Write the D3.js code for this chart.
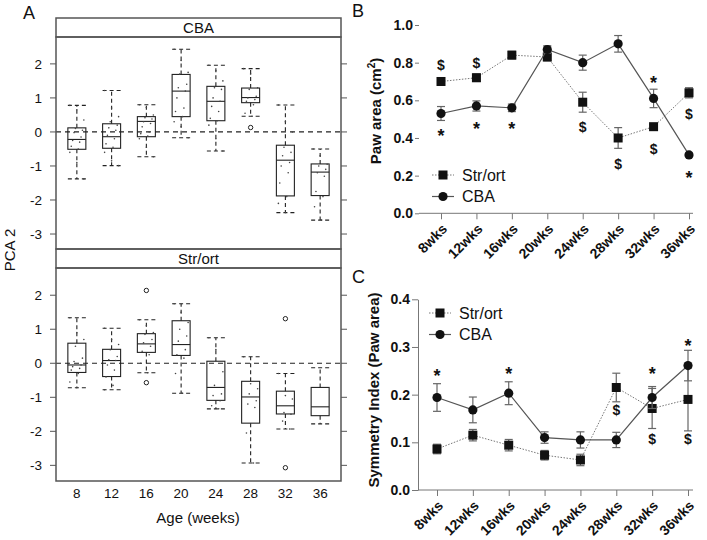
<!DOCTYPE html>
<html lang="en">
<head>
	<meta charset="UTF-8">
	<script type="text/javascript" src="https://d3js.org/d3.v7.min.js"></script>
	<title>PCA 2 / Paw area / Symmetry index</title>
	<style>
		body{ margin: 0; background: #fff; }
		text{ font-family: "Liberation Sans", Arial, sans-serif; fill: #111; }
		.frame{ fill: none; stroke: #555; stroke-width: 1.5px; }
		.box{ fill: none; stroke: #222; stroke-width: 1.1px; }
		.whisk{ stroke: #222; stroke-width: 1.1px; stroke-dasharray: 4,3; }
		.zero{ stroke: #222; stroke-width: 1.2px; stroke-dasharray: 5,4; }
		.pt{ fill: #444; }
		.out{ fill: none; stroke: #222; stroke-width: 1px; }
		.bold{ font-weight: bold; }
		.line_str{ fill: none; stroke: #777; stroke-width: 1px; stroke-dasharray: 1.5,1.5; }
		.line_cba{ fill: none; stroke: #555; stroke-width: 1.2px; }
		.err{ stroke: #666; stroke-width: 1.2px; }
	</style>
</head>
<body>
<script>
	// ---------- data ----------
	const weeks = [8, 12, 16, 20, 24, 28, 32, 36];
	const wkLabels = ["8wks", "12wks", "16wks", "20wks", "24wks", "28wks", "32wks", "36wks"];

	// panel A: [lower whisker, q1, median, q3, upper whisker]
	const cbaBoxes = [
		[-1.38, -0.51, -0.22, 0.12, 0.78],
		[-0.99, -0.48, -0.14, 0.24, 1.22],
		[-0.73, -0.14, 0.31, 0.45, 0.80],
		[-0.17, 0.45, 1.20, 1.69, 2.43],
		[-0.56, 0.33, 0.90, 1.34, 1.96],
		[0.46, 0.86, 1.01, 1.29, 1.86],
		[-2.37, -1.88, -0.83, -0.39, 0.79],
		[-2.59, -1.87, -1.18, -0.94, -0.50]
	];
	const strBoxes = [
		[-0.72, -0.27, -0.05, 0.59, 1.34],
		[-0.78, -0.39, 0.08, 0.41, 1.03],
		[-0.28, 0.32, 0.57, 0.87, 1.28],
		[-0.88, 0.23, 0.55, 1.25, 1.75],
		[-1.34, -1.09, -0.71, 0.06, 0.75],
		[-2.93, -1.76, -0.99, -0.53, 0.19],
		[-1.93, -1.49, -1.25, -0.82, -0.30],
		[-1.78, -1.54, -1.28, -0.71, -0.13]
	];
	// outliers: group index (0-based) and value
	const cbaOutliers = [[5, 0.13]];
	const strOutliers = [[2, 2.14], [2, -0.57], [6, 1.31], [6, -3.07]];
	// raw points shown over the boxes
	const cbaPoints = [
		[0.78, 0.65, 0.35, 0.1, 0.05, -0.02, -0.15, -0.25, -0.3, -0.42, -0.5, -0.6, -0.9, -1.38],
		[1.22, 0.7, 0.45, 0.3, 0.2, 0.12, 0.05, -0.1, -0.2, -0.35, -0.45, -0.6, -0.85, -0.99],
		[0.8, 0.72, 0.5, 0.42, 0.38, 0.3, 0.25, 0.15, 0.0, -0.05, -0.12, -0.2, -0.45, -0.73],
		[2.43, 2.1, 1.75, 1.7, 1.4, 1.3, 1.2, 1.0, 0.7, 0.6, 0.45, 0.3, 0.15, -0.17],
		[1.96, 1.8, 1.5, 1.3, 1.25, 1.0, 0.9, 0.75, 0.6, 0.4, 0.33, 0.2, -0.2, -0.56],
		[1.86, 1.7, 1.3, 1.25, 1.05, 1.0, 0.95, 0.9, 0.8, 0.55, 0.46],
		[0.79, 0.3, 0.0, -0.45, -0.6, -0.7, -0.9, -1.0, -1.2, -1.5, -1.9, -2.1, -2.37],
		[-0.5, -0.7, -0.95, -1.0, -1.1, -1.2, -1.3, -1.75, -1.9, -2.2, -2.59]
	];
	const strPoints = [
		[1.34, 0.9, 0.7, 0.5, 0.15, 0.05, -0.05, -0.1, -0.15, -0.2, -0.3, -0.55, -0.72],
		[1.03, 0.7, 0.55, 0.4, 0.2, 0.1, 0.08, -0.05, -0.2, -0.4, -0.65, -0.78],
		[1.28, 1.1, 0.9, 0.85, 0.7, 0.6, 0.5, 0.35, 0.25, 0.0, -0.28],
		[1.75, 1.5, 1.2, 1.0, 0.8, 0.65, 0.4, 0.25, 0.15, -0.3, -0.88],
		[0.75, 0.4, -0.25, -0.65, -0.9, -0.95, -1.1, -1.25, -1.34],
		[0.19, -0.6, -0.75, -0.9, -1.1, -1.2, -1.3, -2.05, -2.93],
		[-0.3, -0.95, -1.05, -1.45, -1.5, -1.7, -1.93],
		[]
	];
	const pcaTicks = [-3, -2, -1, 0, 1, 2];

	// panel B: paw area (cm2), mean and error
	const pawStr = [0.70, 0.72, 0.84, 0.83, 0.59, 0.40, 0.46, 0.64];
	const pawStrErr = [0.012, 0.02, 0.02, 0.02, 0.053, 0.055, 0.012, 0.027];
	const pawCba = [0.53, 0.57, 0.56, 0.87, 0.80, 0.90, 0.61, 0.31];
	const pawCbaErr = [0.037, 0.027, 0.02, 0.02, 0.04, 0.044, 0.049, 0.01];
	const pawMarks = [["8wks", 0.785, "$"], ["12wks", 0.80, "$"], ["8wks", 0.434, "*"], ["12wks", 0.469, "*"],
		["16wks", 0.469, "*"], ["24wks", 0.458, "$"], ["28wks", 0.262, "$"], ["32wks", 0.713, "*"],
		["32wks", 0.341, "$"], ["36wks", 0.527, "$"], ["36wks", 0.211, "*"]];

	// panel C: symmetry index (paw area)
	const symStr = [0.086, 0.115, 0.094, 0.073, 0.063, 0.215, 0.171, 0.190];
	const symStrErr = [0.01, 0.012, 0.012, 0.01, 0.012, 0.03, 0.042, 0.066];
	const symCba = [0.194, 0.168, 0.203, 0.110, 0.105, 0.105, 0.194, 0.261];
	const symCbaErr = [0.029, 0.027, 0.024, 0.012, 0.017, 0.016, 0.023, 0.032];
	const symMarks = [["8wks", 0.248, "*"], ["16wks", 0.251, "*"], ["28wks", 0.168, "$"], ["32wks", 0.251, "*"],
		["32wks", 0.108, "$"], ["36wks", 0.311, "*"], ["36wks", 0.108, "$"]];

	const width = 707, height = 540;
	const svg = d3.select("body")
		.append("svg")
		.attr("width", width)
		.attr("height", height);

	// ---------- panel A ----------
	const xA = d3.scaleLinear().domain([0.4, 8.6]).range([56, 341]);
	const boxW = 18;

	function drawLattice(name, top, stripH, bottom, boxes, points, outliers, yDomain){
		const y = d3.scaleLinear().domain(yDomain).range([bottom, top + stripH]);
		const g = svg.append("g");
		// strip
		g.append("rect").attr("class", "frame")
			.attr("x", xA.range()[0]).attr("y", top)
			.attr("width", xA.range()[1] - xA.range()[0]).attr("height", stripH);
		g.append("text")
			.attr("x", (xA.range()[0] + xA.range()[1]) / 2)
			.attr("y", top + stripH - 4)
			.attr("text-anchor", "middle")
			.style("font-size", "15px")
			.text(name);
		// ticks on both sides
		pcaTicks.forEach(function (t){
			g.append("line").attr("x1", xA.range()[0] - 6).attr("x2", xA.range()[0])
				.attr("y1", y(t)).attr("y2", y(t)).attr("stroke", "#555");
			g.append("line").attr("x1", xA.range()[1]).attr("x2", xA.range()[1] + 6)
				.attr("y1", y(t)).attr("y2", y(t)).attr("stroke", "#555");
			g.append("text")
				.attr("x", xA.range()[0] - 14).attr("y", y(t))
				.attr("dy", "0.36em")
				.attr("text-anchor", "end")
				.style("font-size", "13.5px")
				.text(t);
		});
		// zero line
		g.append("line").attr("class", "zero")
			.attr("x1", xA.range()[0]).attr("x2", xA.range()[1])
			.attr("y1", y(0)).attr("y2", y(0));
		// boxes
		boxes.forEach(function (b, i){
			const cx = xA(i + 1);
			g.append("line").attr("class", "whisk").attr("x1", cx).attr("x2", cx).attr("y1", y(b[3])).attr("y2", y(b[4]));
			g.append("line").attr("class", "whisk").attr("x1", cx).attr("x2", cx).attr("y1", y(b[1])).attr("y2", y(b[0]));
			g.append("line").attr("class", "whisk").attr("x1", cx - boxW / 2).attr("x2", cx + boxW / 2).attr("y1", y(b[4])).attr("y2", y(b[4]));
			g.append("line").attr("class", "whisk").attr("x1", cx - boxW / 2).attr("x2", cx + boxW / 2).attr("y1", y(b[0])).attr("y2", y(b[0]));
			g.append("rect").attr("class", "box")
				.attr("x", cx - boxW / 2).attr("y", y(b[3]))
				.attr("width", boxW).attr("height", y(b[1]) - y(b[3]));
			g.append("line").attr("class", "box").attr("x1", cx - boxW / 2).attr("x2", cx + boxW / 2).attr("y1", y(b[2])).attr("y2", y(b[2]));
			// jittered raw points
			g.selectAll(".pt" + name.replace("/", "") + i)
				.data(points[i])
				.enter()
				.append("circle")
				.attr("class", "pt")
				.attr("cx", function (d, j){ return cx + ((j * 5) % 11 - 5) * 1.4; })
				.attr("cy", function (d){ return y(d); })
				.attr("r", 0.8);
		});
		outliers.forEach(function (o){
			g.append("circle").attr("class", "out")
				.attr("cx", xA(o[0] + 1)).attr("cy", y(o[1])).attr("r", 2.2);
		});
		// plot frame
		g.append("rect").attr("class", "frame")
			.attr("x", xA.range()[0]).attr("y", top + stripH)
			.attr("width", xA.range()[1] - xA.range()[0]).attr("height", bottom - top - stripH);
		return y;
	}

	drawLattice("CBA", 18, 19, 249, cbaBoxes, cbaPoints, cbaOutliers, [-3.44, 2.79]);
	drawLattice("Str/ort", 249, 19, 481, strBoxes, strPoints, strOutliers, [-3.46, 2.8]);

	weeks.forEach(function (w, i){
		svg.append("text")
			.attr("x", xA(i + 1)).attr("y", 498)
			.attr("text-anchor", "middle")
			.style("font-size", "13.5px")
			.text(w);
	});
	svg.append("text")
		.attr("x", 198).attr("y", 523)
		.attr("text-anchor", "middle")
		.style("font-size", "15px")
		.text("Age (weeks)");
	svg.append("text")
		.attr("transform", "translate(15,250) rotate(-90)")
		.attr("text-anchor", "middle")
		.style("font-size", "15px")
		.text("PCA 2");

	// ---------- panels B and C ----------
	function drawLinePanel(opts){
		const x = d3.scalePoint().domain(wkLabels).range(opts.xRange);
		const y = d3.scaleLinear().domain(opts.yDomain).range(opts.yRange);
		const g = svg.append("g");

		// y axis
		const ya = g.append("g")
			.attr("transform", "translate(" + opts.axisX + ",0)")
			.call(d3.axisLeft(y).tickValues(opts.yTicks).tickFormat(d3.format(".1f")).tickSize(opts.tickY).tickPadding(2).tickSizeOuter(0));
		ya.selectAll("line").attr("stroke", "#777");
		ya.select(".domain").attr("stroke", "#777");
		if(!opts.showYLine) ya.select(".domain").remove();
		ya.selectAll("text").attr("class", "bold").style("font-size", "14px").style("fill", "#111");

		// x axis
		const xa = g.append("g")
			.attr("transform", "translate(0," + opts.yRange[0] + ")")
			.call(d3.axisBottom(x).tickSize(6).tickSizeOuter(0));
		xa.select(".domain").remove();
		xa.selectAll("line").attr("stroke", "#777");
		xa.selectAll("text")
			.attr("class", "bold")
			.style("font-size", "14px")
			.style("fill", "#111")
			.attr("x", 0).attr("y", 0).attr("dy", "0.35em")
			.attr("text-anchor", "end")
			.attr("transform", "translate(3,13) rotate(-45)");
		g.append("line")
			.attr("x1", opts.axisX).attr("x2", 693)
			.attr("y1", opts.yRange[0]).attr("y2", opts.yRange[0])
			.attr("stroke", "#777");

		// y label
		g.append("text")
			.attr("class", "bold")
			.attr("transform", "translate(" + opts.labelX + "," + opts.labelY + ") rotate(-90)")
			.attr("text-anchor", "middle")
			.style("font-size", "15px")
			.html(opts.label);

		const line = d3.line()
			.x(function (d, i){ return x(wkLabels[i]); })
			.y(function (d){ return y(d); });

		function series(vals, errs, cls, shape){
			g.append("path").attr("class", cls).attr("d", line(vals));
			vals.forEach(function (v, i){
				const cx = x(wkLabels[i]);
				g.append("line").attr("class", "err").attr("x1", cx).attr("x2", cx).attr("y1", y(v - errs[i])).attr("y2", y(v + errs[i]));
				g.append("line").attr("class", "err").attr("x1", cx - 4).attr("x2", cx + 4).attr("y1", y(v - errs[i])).attr("y2", y(v - errs[i]));
				g.append("line").attr("class", "err").attr("x1", cx - 4).attr("x2", cx + 4).attr("y1", y(v + errs[i])).attr("y2", y(v + errs[i]));
			});
			vals.forEach(function (v, i){
				const cx = x(wkLabels[i]);
				if(shape === "square"){
					g.append("rect").attr("x", cx - 4.5).attr("y", y(v) - 4.5).attr("width", 9).attr("height", 9).attr("fill", "#111");
				} else {
					g.append("circle").attr("cx", cx).attr("cy", y(v)).attr("r", 4.6).attr("fill", "#111");
				}
			});
		}
		series(opts.str, opts.strErr, "line_str", "square");
		series(opts.cba, opts.cbaErr, "line_cba", "circle");

		// significance marks
		opts.marks.forEach(function (m){
			const star = m[2] === "*";
			g.append("text")
				.attr("class", "bold")
				.attr("x", x(m[0])).attr("y", y(m[1]) + (star ? 10 : 5))
				.attr("text-anchor", "middle")
				.style("font-size", star ? "18px" : "14px")
				.text(m[2]);
		});

		// legend
		const lg = [["Str/ort", "line_str", "square"], ["CBA", "line_cba", "circle"]];
		lg.forEach(function (l, i){
			const ly = opts.legendY + i * 21.5;
			g.append("line").attr("class", l[1]).attr("x1", opts.legendX - 11).attr("x2", opts.legendX + 11).attr("y1", ly).attr("y2", ly);
			if(l[2] === "square")
				g.append("rect").attr("x", opts.legendX - 4.5).attr("y", ly - 4.5).attr("width", 9).attr("height", 9).attr("fill", "#111");
			else
				g.append("circle").attr("cx", opts.legendX).attr("cy", ly).attr("r", 4.6).attr("fill", "#111");
			g.append("text")
				.attr("x", opts.legendX + 19).attr("y", ly).attr("dy", "0.36em")
				.style("font-size", "16px")
				.text(l[0]);
		});
	}

	drawLinePanel({
		xRange: [441, 689], yDomain: [0, 1], yRange: [213.3, 25], yTicks: [0, 0.2, 0.4, 0.6, 0.8, 1.0],
		axisX: 419, tickY: 4, showYLine: false,
		label: "Paw area (cm<tspan dy='-6' font-size='10px'>2</tspan><tspan dy='6'>)</tspan>", labelX: 381, labelY: 111,
		str: pawStr, strErr: pawStrErr, cba: pawCba, cbaErr: pawCbaErr, marks: pawMarks,
		legendX: 443, legendY: 175
	});
	drawLinePanel({
		xRange: [437, 688], yDomain: [0, 0.4], yRange: [490, 299.3], yTicks: [0, 0.1, 0.2, 0.3, 0.4],
		axisX: 418, tickY: 6, showYLine: true,
		label: "Symmetry Index (Paw area)", labelX: 379, labelY: 390,
		str: symStr, strErr: symStrErr, cba: symCba, cbaErr: symCbaErr, marks: symMarks,
		legendX: 440, legendY: 313
	});

	// panel letters
	[["A", 23, 19], ["B", 352, 17], ["C", 352, 283]].forEach(function (p){
		svg.append("text").attr("x", p[1]).attr("y", p[2]).style("font-size", "18px").text(p[0]);
	});
</script>
</body>
</html>
